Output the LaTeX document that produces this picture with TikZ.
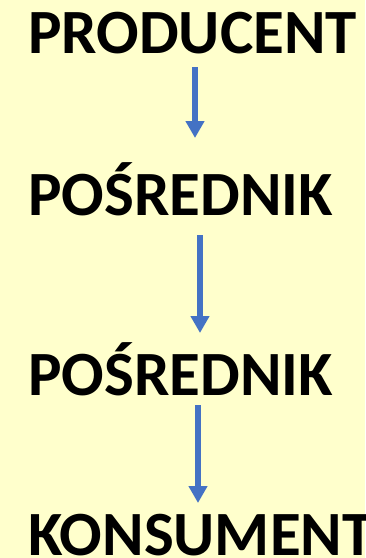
\documentclass[tikz,border=0pt]{standalone}
\usepackage{fontspec}
\setmainfont{Carlito}
\usetikzlibrary{arrows.meta}
\definecolor{bgyellow}{HTML}{FFFFCC}
\definecolor{arrblue}{HTML}{4472C4}
\tikzset{
  lbl/.style={anchor=base west, inner sep=0pt, font=\fontsize{63}{70}\selectfont\bfseries},
  arr/.style={draw=arrblue, line width=6pt, -{Triangle[width=18pt,length=17pt]}}
}
\begin{document}
\begin{tikzpicture}[x=1pt,y=-1pt]
\fill[bgyellow] (0,0) rectangle (365,558);
\useasboundingbox (0,0) rectangle (365,558);
\node[lbl] (p) at (28,53) {PRODUCENT};
\node[lbl] (m1) at (28,215) {POŚREDNIK};
\node[lbl] (m2) at (28,395) {POŚREDNIK};
\node[lbl] (k) at (28,555) {KONSUMENT};
\draw[arr] ([shift={(167pt,-14pt)}]p.base west) -- ([shift={(167pt,77pt)}]m1.base west);
\draw[arr] ([shift={(172pt,-20pt)}]m1.base west) -- ([shift={(172pt,62pt)}]m2.base west);
\draw[arr] ([shift={(170pt,-10pt)}]m2.base west) -- ([shift={(170pt,52pt)}]k.base west);
\end{tikzpicture}
\end{document}
